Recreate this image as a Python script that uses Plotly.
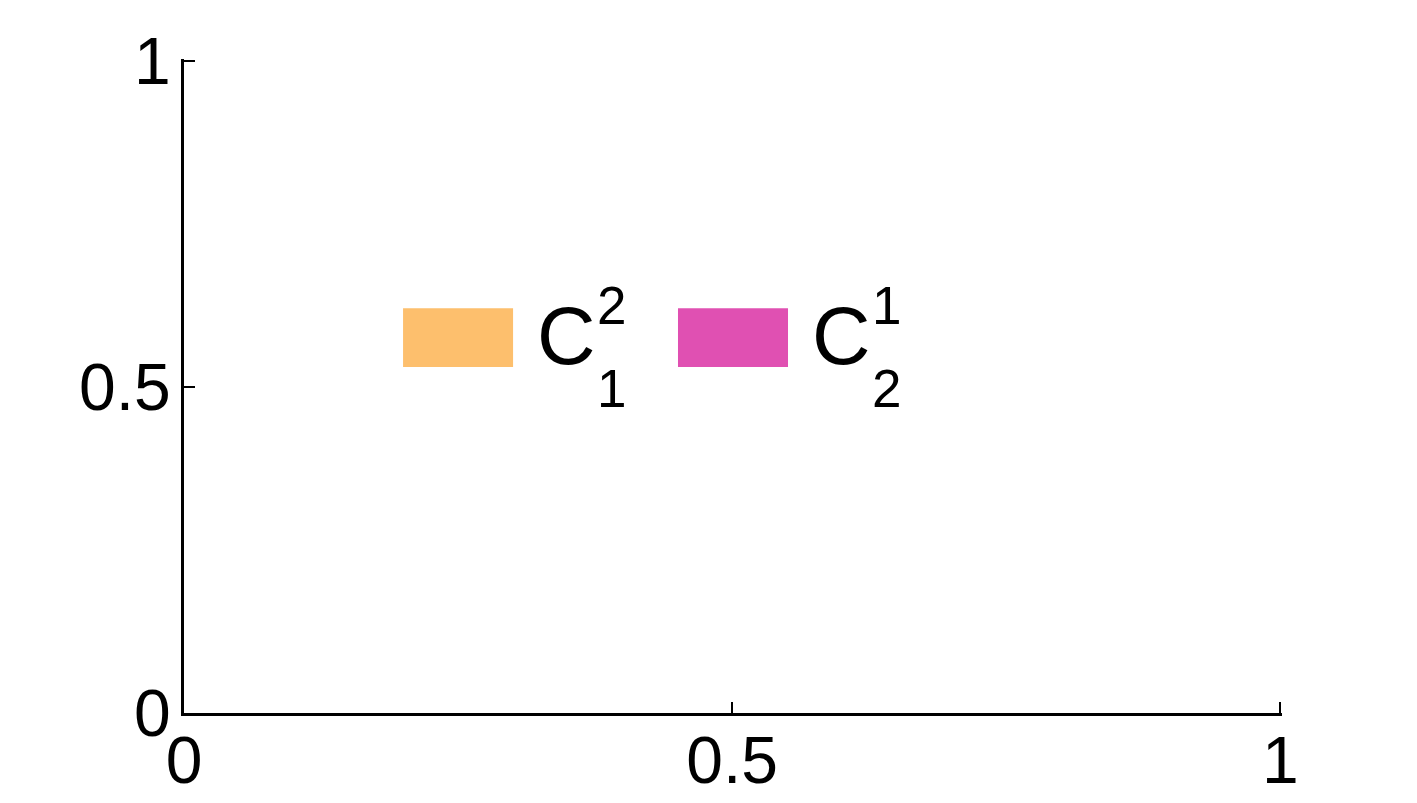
import plotly.graph_objects as go

# ---- data ----
x_tick_vals = [0, 0.5, 1]
x_tick_text = ["0", "0.5", "1"]
y_tick_vals = [0, 0.5, 1]
y_tick_text = ["0", "0.5", "1"]

series_base = ["C", "C"]
series_sup = ["2", "1"]
series_sub = ["1", "2"]
series_colors = ["#FDBF6D", "#E050B2"]

# ---- layout constants ----
W, H = 1417, 803
ML, MR, MT, MB = 184, 135, 59, 90
FONT = "Liberation Sans, Arial, Helvetica, sans-serif"
# tiny padding at the far end so that plotly keeps the inside ticks there
X_EPS, Y_EPS = 0.0016, 0.0026

fig = go.Figure()
for b, sp, sb, c in zip(series_base, series_sup, series_sub, series_colors):
    fig.add_trace(go.Scatter(x=[], y=[], name=f"{b}{sp}{sb}", marker=dict(color=c), showlegend=False))

# manual legend (patches in paper coords)
legend_x0 = [0.1995, 0.4499]
patch_w = 0.1002
patch_y0, patch_y1 = 0.529, 0.619
ymid = (patch_y0 + patch_y1) / 2

shapes = []
annotations = []
for i, (b, sp, sb, c) in enumerate(zip(series_base, series_sup, series_sub, series_colors)):
    x0 = legend_x0[i]
    x1 = x0 + patch_w
    shapes.append(dict(type="rect", xref="paper", yref="paper", x0=x0, x1=x1,
                       y0=patch_y0, y1=patch_y1, fillcolor=c, line=dict(width=0), layer="above"))
    annotations.append(dict(xref="paper", yref="paper", x=x1, y=ymid, text=b, showarrow=False,
                            xanchor="left", yanchor="middle", xshift=22, yshift=2,
                            font=dict(family=FONT, size=81, color="black")))
    annotations.append(dict(xref="paper", yref="paper", x=x1, y=ymid, text=sp, showarrow=False,
                            xanchor="left", yanchor="middle", xshift=82, yshift=32,
                            font=dict(family=FONT, size=53, color="black")))
    annotations.append(dict(xref="paper", yref="paper", x=x1, y=ymid, text=sb, showarrow=False,
                            xanchor="left", yanchor="middle", xshift=82, yshift=-51,
                            font=dict(family=FONT, size=53, color="black")))

axis_common = dict(
    showgrid=False, zeroline=False, showline=True, linecolor="black", linewidth=3,
    ticks="inside", ticklen=11, tickwidth=2, tickcolor="black",
    tickfont=dict(family=FONT, size=66, color="black"),
    mirror=False, fixedrange=True, automargin=False,
)

fig.update_layout(
    template="none",
    width=W, height=H,
    margin=dict(l=ML, r=MR, t=MT, b=MB, pad=0),
    paper_bgcolor="white", plot_bgcolor="white",
    xaxis=dict(range=[0, 1 + X_EPS], tickmode="array", tickvals=x_tick_vals, ticktext=x_tick_text,
               ticklabelstandoff=-12, **axis_common),
    yaxis=dict(range=[0, 1 + Y_EPS], tickmode="array", tickvals=y_tick_vals, ticktext=y_tick_text,
               ticklabelstandoff=-3, **axis_common),
    shapes=shapes,
    annotations=annotations,
    showlegend=False,
)

fig.write_html("out.html", config=dict(displayModeBar=False),
               post_script="document.body.style.margin='0';document.body.style.overflow='hidden';")
